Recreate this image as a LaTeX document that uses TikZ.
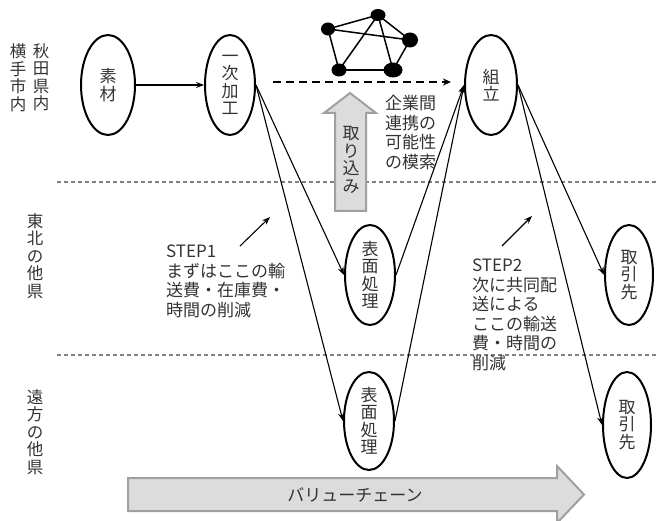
\documentclass[tikz,border=0pt]{standalone}
\usepackage{fontspec}
\newfontfamily\jp{Noto Sans CJK JP}
\usetikzlibrary{shapes.geometric,arrows.meta}
\definecolor{txt}{HTML}{333333}
\definecolor{divgray}{HTML}{808080}
\definecolor{blockfill}{HTML}{DCDCDC}
\definecolor{blockline}{HTML}{A0A0A0}
\begin{document}
\begin{tikzpicture}[x=1pt,y=-1pt,
  proc/.style={ellipse,draw=black,line width=2pt,minimum width=50pt,minimum height=100pt,inner sep=0pt,align=center,text=txt,font=\jp\fontsize{17}{17.5}\selectfont},
  vlabel/.style={align=center,text=txt,font=\jp\fontsize{16.5}{17.5}\selectfont,inner sep=0pt},
  para/.style={align=left,text=txt,font=\jp\fontsize{17}{19.5}\selectfont,inner sep=0pt,anchor=north west},
  flow/.style={line width=1.1pt,-{Stealth[length=8pt,width=6pt]}},
  divider/.style={divgray,line width=1.1pt,dash pattern=on 4pt off 3pt},
  netnode/.style={ellipse,fill=black,inner sep=0pt},
  netedge/.style={line width=1.5pt},
  block/.style={fill=blockfill,draw=blockline,line width=2pt,line join=miter}
]
\useasboundingbox (0,0) rectangle (658,521);

% dividers
\coordinate (d1l) at (57,182); \coordinate (d1r) at (658,182);
\coordinate (d2l) at (57,355); \coordinate (d2r) at (658,355);
\draw[divider] (d1l) -- (d1r);
\draw[divider] (d2l) -- (d2r);

% left region labels
\node[vlabel] (akita) at (41,77.5) {秋\\田\\県\\内};
\node[vlabel] (yokote) at (18,77.5) {横\\手\\市\\内};
\node[vlabel] (tohoku) at (35,256) {東\\北\\の\\他\\県};
\node[vlabel] (enpo) at (35,432) {遠\\方\\の\\他\\県};

% process ellipses
\node[proc,minimum width=54pt] (sozai) at (108,85) {素\\材};
\node[proc] (ichiji) at (230,85) {一\\次\\加\\工};
\node[proc,minimum width=52pt] (kumitate) at (491,85) {組\\立};
\node[proc] (hyomen1) at (370,275) {表\\面\\処\\理};
\node[proc,minimum height=98pt] (hyomen2) at (369,421) {表\\面\\処\\理};
\node[proc,minimum width=48pt] (torihiki1) at (629,275) {取\\引\\先};
\node[proc,minimum width=48pt,minimum height=106pt] (torihiki2) at (627,425) {取\\引\\先};

% flows
\draw[flow] (sozai.east) -- (ichiji.west);
\draw[flow] (ichiji.east) -- (hyomen1.west);
\draw[flow] (ichiji.east) -- (hyomen2.west);
\draw[flow] (hyomen1.east) -- (kumitate.west);
\draw[flow] (hyomen2.east) -- (kumitate.west);
\draw[flow] (kumitate.east) -- (torihiki1.west);
\draw[flow] (kumitate.east) -- (torihiki2.west);

% network
\node[netnode,minimum width=14pt,minimum height=13pt] (na) at (328,29) {};
\node[netnode,minimum width=15pt,minimum height=12pt] (nb) at (378,15) {};
\node[netnode,minimum width=16pt,minimum height=15pt] (nc) at (410,40) {};
\node[netnode,minimum width=19pt,minimum height=15pt] (nd) at (393,70) {};
\node[netnode,minimum width=15pt,minimum height=13pt] (ne) at (339,70) {};
\draw[netedge] (na.center) -- (nb.center);
\draw[netedge] (na.center) -- (nc.center);
\draw[netedge] (na.center) -- (ne.center);
\draw[netedge] (nb.center) -- (ne.center);
\draw[netedge] (nb.center) -- (nd.center);
\draw[netedge] (nb.center) -- (nc.center);
\draw[netedge] (nc.center) -- (nd.center);
\draw[netedge] (ne.center) -- (nd.center);

% dashed arrow
\coordinate (dsa) at (273,82); \coordinate (dsb) at (451,82);
\draw[line width=1.8pt,dash pattern=on 8pt off 5pt,-{Stealth[length=8pt,width=7pt]}] (dsa) -- (dsb);

% 取り込み block arrow
\draw[block] (335,211) -- (335,113) -- (324,113) -- (350,93) -- (376,113) -- (366,113) -- (366,211) -- cycle;
\node[vlabel,font=\jp\fontsize{17}{17.5}\selectfont] (torikomi) at (351,160) {取\\り\\込\\み};

% texts
\node[para] (kigyo) at (385,95) {企業間\\連携の\\可能性\\の模索};
\node[para] (step1) at (166,245) {STEP1\\まずはここの輸\\送費・在庫費・\\時間の削減};
\node[para] (step2) at (472,259) {STEP2\\次に共同配\\送による\\ここの輸送\\費・時間の\\削減};

% step pointers
\coordinate (s1a) at (240,246); \coordinate (s1b) at (270,217);
\coordinate (s2a) at (502,246); \coordinate (s2b) at (532,216);
\draw[flow] (s1a) -- (s1b);
\draw[flow] (s2a) -- (s2b);

% value chain arrow
\draw[block] (128,478) -- (557,478) -- (557,466) -- (584,494.5) -- (557,523) -- (557,511) -- (128,511) -- cycle;
\node[text=txt,font=\jp\fontsize{17}{19.5}\selectfont,inner sep=0pt] (vchain) at (355,494.5) {バリューチェーン};
\end{tikzpicture}
\end{document}
